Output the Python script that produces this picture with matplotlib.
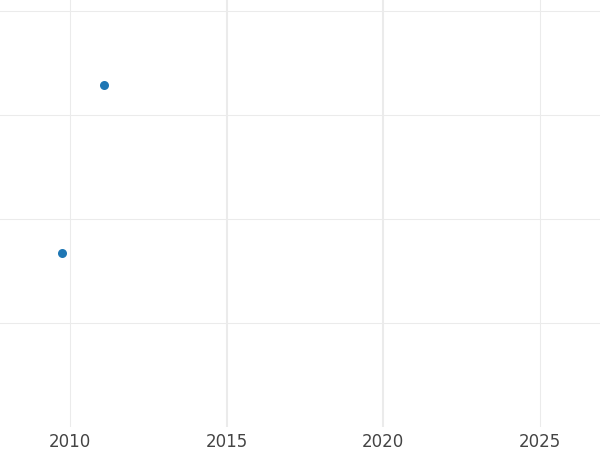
import matplotlib
matplotlib.use("Agg")
import matplotlib.pyplot as plt

# Data
years = [2011.07, 2009.74]
values = [3.29, 1.67]
x_ticks = [2010, 2015, 2020, 2025]
x_tick_labels = ["2010", "2015", "2020", "2025"]
y_ticks = [1, 2, 3, 4]

fig = plt.figure(figsize=(6, 4.5), dpi=100)
ax = fig.add_axes([0, 23 / 450, 1, 427 / 450])

ax.scatter(years, values, s=6.5 ** 2, color="#1f77b4", zorder=3, linewidths=0)

ax.set_xlim(2007.76, 2026.93)
ax.set_ylim(0, 4.106)
ax.set_xticks(x_ticks)
ax.set_xticklabels(x_tick_labels)
ax.set_yticks(y_ticks)
ax.set_yticklabels([])

ax.grid(True, color="#ebebeb", linewidth=0.75, zorder=0)
ax.set_axisbelow(True)
for tick_val, gl in zip(x_ticks, ax.xaxis.get_gridlines()):
    if tick_val in (2015, 2020):
        gl.set_linewidth(1.5)

for s in ax.spines.values():
    s.set_visible(False)
ax.tick_params(axis="both", length=0)
ax.tick_params(axis="x", labelsize=12, labelcolor="#444444", pad=4)

fig.savefig("out.png", dpi=100)
